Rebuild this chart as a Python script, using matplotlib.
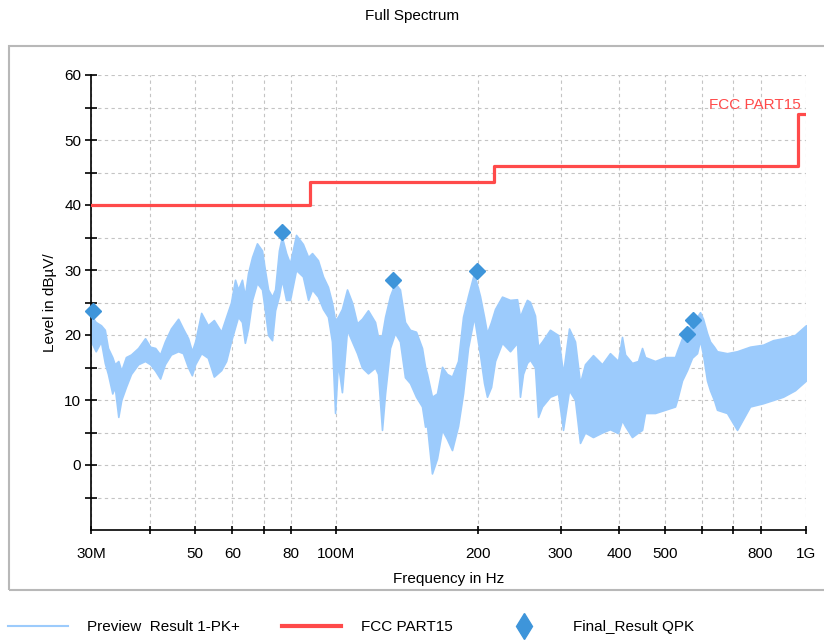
import matplotlib
matplotlib.use('Agg')
import matplotlib.pyplot as plt
import matplotlib.patches as mpatches
from matplotlib.lines import Line2D
from matplotlib.ticker import FixedLocator, NullFormatter

plt.rcParams['font.family'] = ['Liberation Sans', 'DejaVu Sans']
plt.rcParams['font.size'] = 11

# preview scan (peak), read as upper / lower envelope of the noisy trace, MHz / dBuV
freq = [30.0, 30.7, 31.5, 32.1, 32.6, 33.3, 33.7, 34.3, 34.8, 35.6, 36.5, 37.8,
        39.1, 40.1, 41.1, 42.1, 43.1, 44.4, 46.0, 47.1, 48.3, 49.2, 50.0, 51.5,
        53.2, 54.8, 56.8, 58.2, 59.6, 60.8, 61.7, 62.9, 63.8, 64.8, 66.1, 67.7,
        69.4, 70.4, 71.5, 72.9, 74.0, 75.4, 76.5, 78.1, 79.6, 82.0, 84.8, 87.0,
        88.7, 91.3, 93.6, 95.9, 97.8, 99.3, 100.7, 102.7, 105.3, 107.9, 110.6,
        113.3, 116.7, 120.8, 122.6, 125.0, 126.9, 130.0, 133.2, 136.5, 139.9,
        143.4, 147.7, 152.1, 154.4, 155.9, 159.7, 163.7, 167.8, 171.9, 176.2,
        181.5, 186.0, 190.6, 196.3, 202.1, 206.2, 209.2, 213.4, 217.6, 225.2,
        234.2, 242.4, 245.9, 249.6, 254.5, 258.3, 264.7, 268.7, 274.0, 284.9,
        296.4, 303.7, 312.8, 322.1, 330.1, 338.3, 351.8, 367.7, 382.4, 397.8,
        405.6, 411.7, 426.0, 438.8, 447.5, 454.1, 476.9, 500.9, 526.1, 531.3,
        544.4, 557.9, 571.7, 585.9, 594.6, 603.4, 615.4, 624.5, 636.8, 646.3,
        678.8, 713.0, 759.9, 809.9, 850.6, 893.5, 947.4, 1000.0]
pk_hi = [23.0, 22.0, 21.5, 20.8, 18.0, 16.6, 15.5, 16.0, 14.5, 16.6, 17.0, 18.0,
         19.5, 18.2, 18.0, 17.0, 19.0, 21.0, 22.5, 21.0, 19.5, 17.5, 19.0, 23.4,
         21.5, 22.3, 20.5, 22.8, 25.0, 28.5, 27.0, 28.5, 26.0, 29.5, 32.0, 34.1,
         33.0, 30.0, 27.0, 25.9, 27.0, 33.0, 35.1, 32.6, 31.0, 35.4, 34.0, 32.0,
         32.6, 31.5, 29.0, 27.4, 25.0, 22.3, 22.8, 24.0, 27.0, 25.0, 21.8,
         22.5, 23.8, 22.0, 19.7, 20.0, 22.8, 26.0, 28.0, 27.0, 22.0,
         20.8, 20.5, 18.0, 15.1, 14.0, 10.5, 11.0, 15.1, 14.0, 13.6,
         16.0, 22.8, 26.0, 29.5, 26.0, 22.8, 20.3, 22.0, 24.0, 25.9,
         25.4, 25.5, 22.8, 24.0, 25.4, 25.1, 23.0, 18.2, 19.0, 20.8,
         20.0, 14.1, 21.0, 19.0, 12.6, 15.5, 16.9, 15.5, 17.2, 16.0,
         19.7, 17.0, 15.7, 16.0, 18.0, 16.6, 16.0, 16.6, 16.6, 17.5,
         19.5, 20.3, 22.0, 22.8, 23.5, 22.5, 20.3, 19.0, 18.2, 17.5,
         17.2, 17.5, 18.2, 18.5, 19.2, 19.5, 20.0, 21.5]
pk_lo = [19.0, 17.5, 19.0, 15.7, 14.0, 11.0, 12.0, 7.4, 10.0, 12.0, 14.0, 15.5,
         16.0, 15.5, 14.5, 13.3, 15.5, 17.0, 17.5, 17.2, 15.0, 13.8, 15.5, 17.2,
         16.5, 13.6, 14.6, 16.0, 19.0, 21.2, 22.8, 22.0, 18.8, 21.0, 25.4, 28.0,
         27.0, 23.8, 20.0, 19.2, 23.8, 26.0, 28.5, 25.4, 25.4, 30.0, 29.0, 25.4,
         27.0, 25.9, 24.0, 22.8, 19.0, 8.0, 15.7, 11.2, 20.8, 19.0, 17.2,
         15.0, 14.1, 15.0, 14.0, 5.4, 11.0, 18.0, 20.3, 19.0, 13.5,
         12.6, 10.5, 9.0, 5.9, 6.0, -1.3, 1.0, 5.4, 4.0, 2.3,
         6.0, 11.0, 18.0, 22.8, 17.0, 12.6, 10.5, 12.0, 16.0, 18.8,
         17.5, 18.8, 10.5, 14.0, 15.7, 16.2, 15.0, 7.4, 9.0, 10.5,
         11.0, 5.4, 11.5, 10.0, 3.4, 5.0, 4.3, 5.0, 5.5, 4.9,
         6.9, 6.0, 4.3, 5.0, 5.4, 8.0, 8.0, 8.5, 9.0, 10.0,
         13.0, 14.6, 16.5, 17.2, 19.2, 17.0, 13.0, 11.5, 10.0, 8.5,
         8.0, 5.4, 9.0, 9.5, 10.0, 10.5, 11.5, 13.0]

# FCC Part 15 limit (class B, 3 m)
limit_freq = [30, 88, 216, 960, 1000]
limit_level = [40, 43.5, 46, 54, 54]

# final quasi-peak results
qpk_freq = [30.25, 76.5, 132.2, 198.9, 558.9, 575.8]
qpk_level = [23.7, 35.9, 28.5, 29.9, 20.1, 22.3]

major_x = [30, 50, 60, 80, 100, 200, 300, 400, 500, 800, 1000]
major_x_labels = ['30M', '50', '60', '80', '100M', '200', '300', '400', '500', '800', '1G']
minor_x = [40, 70, 600, 700]

trace_c = '#9ccbfc'
limit_c = '#ff4a4a'
qpk_c = '#3e95da'

fig = plt.figure(figsize=(8.24, 6.4), dpi=100)
ax = fig.add_axes([91 / 824, 1 - 530 / 640, 715 / 824, 455 / 640])

ax.fill_between(freq, pk_lo, pk_hi, color=trace_c, lw=1.2, edgecolor=trace_c, zorder=2)
ax.step(limit_freq, limit_level, where='post', color=limit_c, lw=2.3, zorder=3)
ax.plot(qpk_freq, qpk_level, ls='none', marker='D', ms=8, color=qpk_c, zorder=4, clip_on=False)
ax.text(976, 55.4, 'FCC PART15', color=limit_c, ha='right', va='center', fontsize=11)

ax.set_xscale('log')
ax.set_xlim(30, 1000)
ax.set_ylim(-10, 60)
ax.xaxis.set_major_locator(FixedLocator(major_x))
ax.set_xticklabels(major_x_labels)
ax.xaxis.set_minor_locator(FixedLocator(minor_x))
ax.xaxis.set_minor_formatter(NullFormatter())
ax.set_yticks([0, 10, 20, 30, 40, 50, 60])
ax.set_yticks([-5, 5, 15, 25, 35, 45, 55], minor=True)

for s in ['top', 'right']:
    ax.spines[s].set_visible(False)
for s in ['left', 'bottom']:
    ax.spines[s].set_linewidth(1.2)

ax.tick_params(which='both', direction='inout', length=8, width=1.2, pad=3, labelsize=11)
ax.tick_params(axis='x', which='both', length=6, pad=9)
ax.grid(which='both', color='#c4c4c4', ls=(0, (3, 3)), lw=0.8, zorder=0)
ax.set_axisbelow(True)

ax.set_xlabel('Frequency in Hz', fontsize=11, labelpad=8)
ax.set_ylabel('Level in dBµV/', fontsize=11, labelpad=5)
fig.text(0.5, 1 - 16 / 640, 'Full Spectrum', ha='center', va='center', fontsize=11)

box = mpatches.Rectangle((9 / 824, 1 - 590 / 640), 1.0, 544 / 640, transform=fig.transFigure,
                         fill=False, edgecolor='#b8b8b8', lw=1.5, zorder=0)
fig.patches.append(box)

handles = [
    Line2D([], [], color=trace_c, lw=1.5),
    Line2D([], [], color=limit_c, lw=3),
    Line2D([], [], ls='none', marker='d', ms=13, color=qpk_c),
]
labels = ['Preview  Result 1-PK+', 'FCC PART15', 'Final_Result QPK']
fig.legend(handles, labels, loc='center left', bbox_to_anchor=(8 / 824, 1 - 627 / 640),
           ncol=3, frameon=False, borderpad=0, borderaxespad=0, handlelength=3.9,
           handletextpad=1.3, columnspacing=2.7, fontsize=11)

fig.savefig('out.png', dpi=100)
